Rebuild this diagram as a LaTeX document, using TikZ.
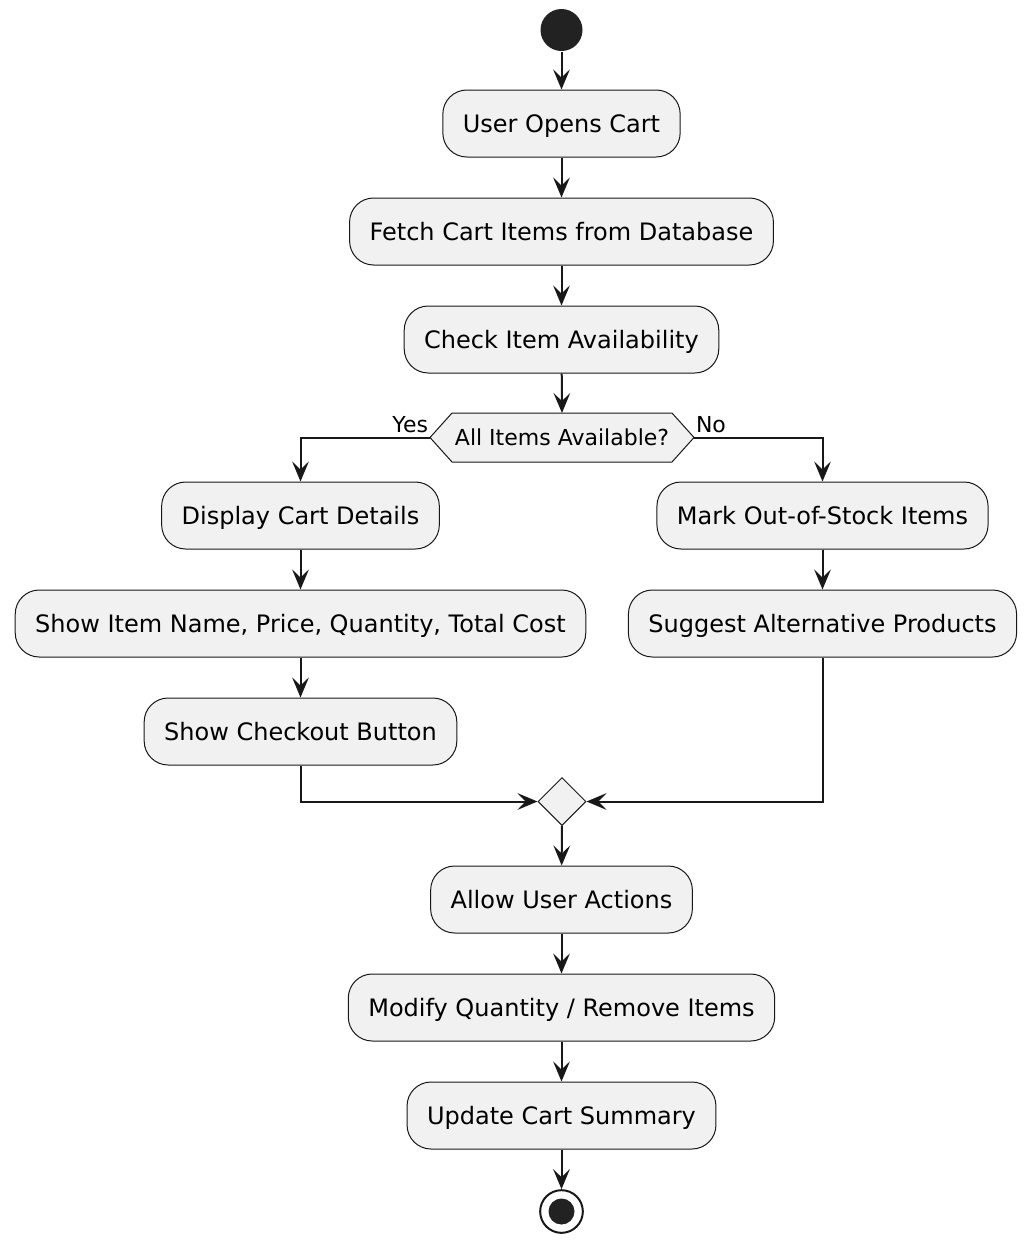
\documentclass[tikz,border=0pt]{standalone}
\usepackage{fontspec}
\setmainfont{DejaVu Sans}
\usepackage{tikz}
\usetikzlibrary{backgrounds,shapes.geometric,arrows.meta}
\definecolor{boxfill}{HTML}{F1F1F1}
\definecolor{boxline}{HTML}{181818}
\definecolor{dotfill}{HTML}{222222}

\begin{document}
\begin{tikzpicture}[x=0.75pt, y=-0.75pt, line width=1.5pt,
  act/.style={draw=boxline, fill=boxfill, line width=0.75pt, rounded corners=18pt, minimum height=50.25pt, inner xsep=15pt, inner ysep=0pt, text height=13.1pt, text depth=0pt, font=\fontsize{18}{22}\selectfont},
  flow/.style={draw=boxline, -{Stealth[length=15pt,width=12.5pt,inset=6pt]}},
  guard/.style={inner sep=0pt, font=\fontsize{16.5}{20}\selectfont}]
\useasboundingbox (0,0) rectangle (1030,1243);

\node[circle, fill=dotfill, minimum size=31.5pt, inner sep=0pt] (start) at (561.5,30) {};

\node[act] (open) at (561.5,123.5) {User Opens Cart};
\node[act] (fetch) at (561.5,231.5) {Fetch Cart Items from Database};
\node[act] (check) at (561.5,339.5) {Check Item Availability};

% decision
\node[guard, minimum width=196.5pt, minimum height=35.25pt, text height=12pt, text depth=0pt] (avail) at (562,437.5) {All Items Available?};
\begin{scope}[on background layer]
\draw[draw=boxline, fill=boxfill, line width=0.75pt] (avail.west) -- ([xshift=16.5pt]avail.north west) -- ([xshift=-16.5pt]avail.north east) -- (avail.east) -- ([xshift=-16.5pt]avail.south east) -- ([xshift=16.5pt]avail.south west) -- cycle;
\end{scope}
\node[guard, anchor=base east] (yes) at ([shift={(-1,-5)}]avail.west) {Yes};
\node[guard, anchor=base west] (no) at ([shift={(1,-5)}]avail.east) {No};

% yes branch
\node[act] (show) at (300.5,515.5) {Display Cart Details};
\node[act] (items) at (300.5,623.5) {Show Item Name, Price, Quantity, Total Cost};
\node[act] (button) at (300.5,731.5) {Show Checkout Button};

% no branch
\node[act] (mark) at (822.5,515.5) {Mark Out-of-Stock Items};
\node[act] (suggest) at (822.5,623.5) {Suggest Alternative Products};

\node[diamond, draw=boxline, fill=boxfill, line width=0.75pt, minimum size=36pt, inner sep=0pt] (merge) at (562,801.5) {};

\node[act] (allow) at (561.5,899.5) {Allow User Actions};
\node[act] (modify) at (561.5,1007.5) {Modify Quantity / Remove Items};
\node[act] (update) at (561.5,1115.5) {Update Cart Summary};

\node[circle, draw=boxline, line width=1.5pt, minimum size=32pt, inner sep=0pt] (stop) at (561.5,1211.5) {};
\node[circle, fill=dotfill, minimum size=19.5pt, inner sep=0pt] (stopdot) at (stop) {};

\draw[flow] (start) -- (open);
\draw[flow] (open) -- (fetch);
\draw[flow] (fetch) -- (check);
\draw[flow] (check) -- (avail.north);
\draw[flow] (avail.west) -| (show.north);
\draw[flow] (avail.east) -| (mark.north);
\draw[flow] (show) -- (items);
\draw[flow] (items) -- (button);
\draw[flow] (mark) -- (suggest);
\draw[flow] (button.south) |- (merge.west);
\draw[flow] (suggest.south) |- (merge.east);
\draw[flow] (merge) -- (allow);
\draw[flow] (allow) -- (modify);
\draw[flow] (modify) -- (update);
\draw[flow] (update) -- (stop);
\end{tikzpicture}
\end{document}
